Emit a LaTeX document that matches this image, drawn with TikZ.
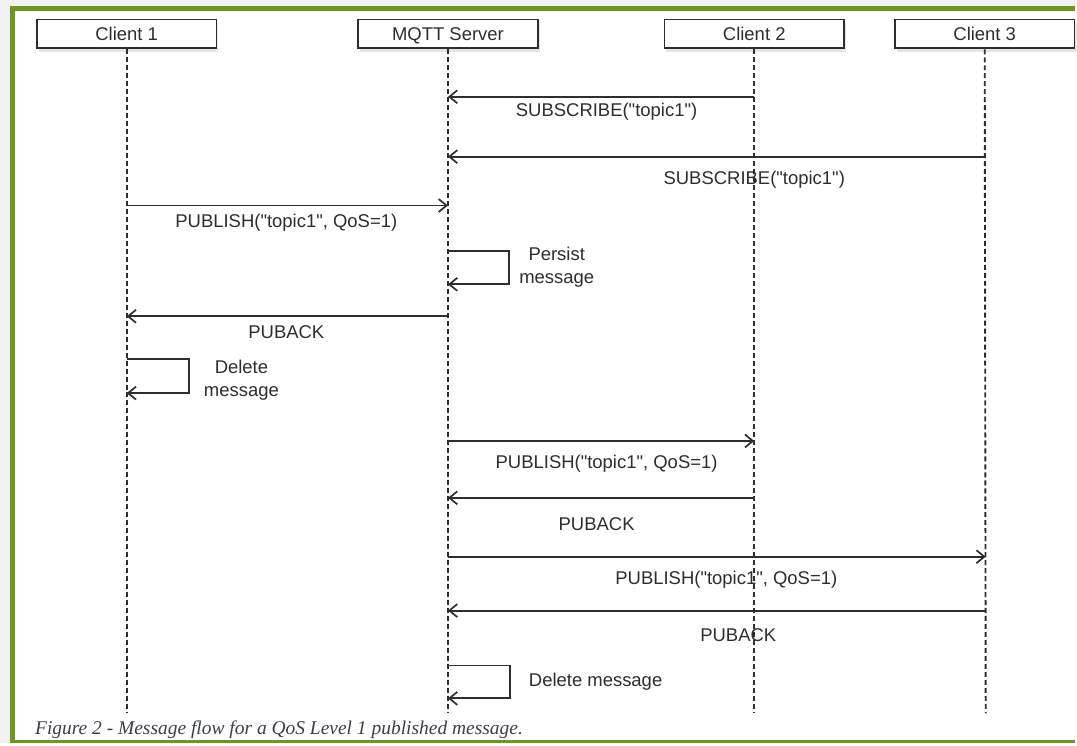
\documentclass[tikz,border=0pt]{standalone}
\usepackage{fontspec}
\setmainfont{Liberation Sans}
\newfontfamily\capfont{Liberation Serif}
\usetikzlibrary{arrows.meta,shadows}

\definecolor{frame}{HTML}{6E9620}
\definecolor{outer}{HTML}{F2F2F2}
\definecolor{ink}{HTML}{2E2E2E}
\definecolor{captionink}{HTML}{3B3F4C}

\newcommand{\dq}{\textquotedbl}

\tikzset{
  actor/.style={draw=ink, line width=1.8pt, fill=white, minimum width=180pt,
    minimum height=29pt, inner sep=0pt, text height=13pt, text depth=0pt,
    font=\fontsize{18.5}{22}\selectfont, text=ink,
    drop shadow={opacity=0.2, shadow xshift=2pt, shadow yshift=-4pt}},
  lifeline/.style={draw=ink, line width=1.9pt, dash pattern=on 5pt off 3pt},
  msg/.style={draw=ink, line width=1.9pt, -{Straight Barb[length=8pt,width=13pt,line width=1.7pt]}},
  lbl/.style={font=\fontsize{18.5}{23}\selectfont, text=ink, inner sep=0pt,
    align=center, yshift=-2pt},
}

\begin{document}
\begin{tikzpicture}[x=1pt,y=-1pt]
  % page, grey surround and green frame
  \fill[outer] (0,0) rectangle (1077,745);
  \fill[white] (13,9) rectangle (1077,743);
  \draw[frame, line width=5pt] (12.5,8.5) -- (1077,8.5);
  \draw[frame, line width=5pt] (12.5,6) -- (12.5,745);
  \draw[frame, line width=3pt] (10,743.5) -- (1077,743.5);
  \useasboundingbox (0,0) rectangle (1077,745);

  % participants
  \node[actor] (c1) at (127,34) {Client 1};
  \node[actor] (srv) at (449,34) {MQTT Server};
  \node[actor] (c2) at (756,34) {Client 2};
  \node[actor] (c3) at (987,34) {Client 3};

  % lifeline ends
  \coordinate (c1e) at (127,715);
  \coordinate (srve) at (449,715);
  \coordinate (c2e) at (756,715);
  \coordinate (c3e) at (988,715);
  \draw[lifeline] (c1.south) -- (c1e);
  \draw[lifeline] (srv.south) -- (srve);
  \draw[lifeline] (c2.south) -- (c2e);
  \draw[lifeline] (c3.south) -- (c3e);

  % message anchor points on the lifelines
  \foreach \y in {97,157,206,252,285,317,360,394,442,499,558,612,667,700} {
    \coordinate (c1-\y) at (127,\y);
    \coordinate (srv-\y) at (449,\y);
    \coordinate (c2-\y) at (756,\y);
    \coordinate (c3-\y) at (988,\y);
  }

  % subscriptions
  \draw[msg] (c2-97) -- (srv-97);
  \node[lbl] (l1) at (608,110) {SUBSCRIBE(\dq topic1\dq)};
  \draw[msg] (c3-157) -- (srv-157);
  \node[lbl] (l2) at (756,178) {SUBSCRIBE(\dq topic1\dq)};

  % client 1 publishes
  \draw[msg] (c1-206) -- (srv-206);
  \node[lbl] (l3) at (287,221) {PUBLISH(\dq topic1\dq, QoS=1)};
  \draw[msg] (srv-252) -| ++(61,33) -- (srv-285);
  \node[lbl] (l4) at (558,266) {Persist\\message};
  \draw[msg] (srv-317) -- (c1-317);
  \node[lbl] (l5) at (287,331) {PUBACK};
  \draw[msg] (c1-360) -| ++(62,34) -- (c1-394);
  \node[lbl] (l6) at (242,379) {Delete\\message};

  % delivery to client 2
  \draw[msg] (srv-442) -- (c2-442);
  \node[lbl] (l7) at (608,463) {PUBLISH(\dq topic1\dq, QoS=1)};
  \draw[msg] (c2-499) -- (srv-499);
  \node[lbl] (l8) at (598,523) {PUBACK};

  % delivery to client 3
  \draw[msg] (srv-558) -- (c3-558);
  \node[lbl] (l9) at (728,579) {PUBLISH(\dq topic1\dq, QoS=1)};
  \draw[msg] (c3-612) -- (srv-612);
  \node[lbl] (l10) at (740,635) {PUBACK};

  \draw[msg] (srv-667) -| ++(62,33) -- (srv-700);
  \node[lbl] (l11) at (597,681) {Delete message};

  % caption
  \node[anchor=west, inner sep=0pt, text=captionink,
        font=\capfont\itshape\fontsize{19.5}{23}\selectfont] (cap) at (35,731)
        {Figure 2 - Message flow for a QoS Level 1 published message.};
\end{tikzpicture}
\end{document}
